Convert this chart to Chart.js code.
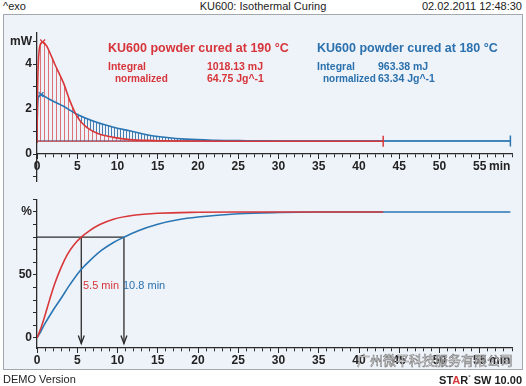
<!DOCTYPE html>
<html>
<head>
<meta charset="utf-8">
<title>KU600: Isothermal Curing</title>
<script src="https://cdn.jsdelivr.net/npm/chart.js"></script>
<style>
body { margin: 0; background: #ffffff; font-family: "Liberation Sans", Arial, sans-serif; }
#page { position: relative; width: 526px; height: 386px; overflow: hidden; }
#frame { position: absolute; left: 3px; top: 14px; width: 518px; height: 354px; border: 1px solid #a3a7ae; background: #eef2f9; }
canvas { position: absolute; left: 0; }
.t { position: absolute; white-space: nowrap; line-height: 1; color: #222; }
.red { color: #d6353a; }
.blue { color: #2a71ad; }
.b { font-weight: bold; }
</style>
</head>
<body>
<div id="page">
  <!-- header -->
  <div class="t" style="left:3px;top:1px;font-size:11px">^exo</div>
  <div class="t" style="left:0;width:526px;text-align:center;top:1px;font-size:11px">KU600: Isothermal Curing</div>
  <div class="t" style="right:4px;top:1px;font-size:11px">02.02.2011 12:48:30</div>

  <div id="frame"></div>
  <canvas id="dsc" width="526" height="190" style="top:0"></canvas>
  <canvas id="conv" width="526" height="196" style="top:190px"></canvas>

  <!-- legend texts, top panel -->
  <div class="t b red" style="left:108px;top:42px;font-size:12.5px">KU600 powder cured at 190 °C</div>
  <div class="t b red" style="left:108px;top:61px;font-size:10.5px">Integral</div>
  <div class="t b red" style="left:207px;top:61px;font-size:10.5px">1018.13 mJ</div>
  <div class="t b red" style="left:115px;top:73.5px;font-size:10px">normalized</div>
  <div class="t b red" style="left:207px;top:73px;font-size:10.5px">64.75 Jg^-1</div>

  <div class="t b blue" style="left:317px;top:42px;font-size:12.5px">KU600 powder cured at 180 °C</div>
  <div class="t b blue" style="left:317px;top:61px;font-size:10.5px">Integral</div>
  <div class="t b blue" style="left:378px;top:61px;font-size:10.5px">963.38 mJ</div>
  <div class="t b blue" style="left:323px;top:73.5px;font-size:10px">normalized</div>
  <div class="t b blue" style="left:378px;top:73px;font-size:10.5px">63.34 Jg^-1</div>

  <div class="t b" style="left:489px;top:160px;font-size:12px">min</div>

  <!-- bottom panel labels -->
  <div class="t red" style="left:83px;top:280px;font-size:11px">5.5 min</div>
  <div class="t blue" style="left:123px;top:280px;font-size:11px">10.8 min</div>
  <div class="t b" style="left:489px;top:354px;font-size:12px">min</div>

  <div class="t" style="left:357px;top:353px;font-size:13px;font-family:'Noto Sans CJK SC';color:rgba(255,255,255,0.95);-webkit-text-stroke:0.6px #7d7d7d">广州微平科技服务有限公司</div>

  <!-- footer -->
  <div class="t" style="left:3px;top:374px;font-size:11px">DEMO Version</div>
  <div class="t b" style="right:4px;top:374px;font-size:11px">ST<span class="red">A</span>R<sup style="font-size:6px">°</sup> SW 10.00</div>
</div>

<script>
// DSC heat flow, mW
const dscTimeRed = [0, 0.08, 0.2, 0.4, 0.7, 1.2, 1.6, 2.2, 3.3, 4.1, 4.9, 5.8, 7.4, 9.5, 11.5, 14.5, 18, 25, 43];
const dscRed = [0.6, 3.0, 4.3, 4.85, 4.98, 4.8, 4.5, 4.0, 3.15, 2.35, 1.72, 1.3, 0.93, 0.74, 0.64, 0.6, 0.58, 0.57, 0.57];
const dscTimeBlue = [0, 0.05, 0.2, 0.5, 1, 1.6, 3.3, 4.9, 7.4, 9.5, 11.5, 14.5, 18.5, 22, 26, 30, 58.8];
const dscBlue = [0.6, 2.0, 2.55, 2.64, 2.55, 2.42, 2.12, 1.78, 1.41, 1.19, 1.03, 0.8, 0.66, 0.61, 0.59, 0.58, 0.58];
const baseRed = 0.57, baseBlue = 0.58;
const peakRed = [0.7, 4.98], peakBlue = [0.5, 2.64];

// conversion, %
const convTimeRed = [0, 0.5, 1, 1.6, 2.2, 3, 3.8, 4.6, 5.5, 6.5, 7.8, 9.5, 12, 15, 20, 25, 43];
const convRed = [0, 8, 18, 31, 43, 56, 66.5, 74, 80, 85, 90, 94.3, 97.4, 99, 99.8, 100, 100];
const convTimeBlue = [0, 0.5, 1, 2, 3, 4, 5.3, 6.5, 8, 9.5, 10.8, 12.5, 15, 17.5, 20, 25, 30, 35, 58.8];
const convBlue = [0, 5.5, 11.5, 22, 31.5, 41.5, 53, 61, 69.5, 75.8, 80, 85, 90.3, 93.8, 96, 98.6, 99.6, 100, 100];
const level = 80, tRed = 5.5, tBlue = 10.8, arrowEnd = -4.5;

// tick labels
const timeTicks = ['0', '5', '10', '15', '20', '25', '30', '35', '40', '45', '50', '55'];
const mwTickValues = [0, 2, 4, 5];
const mwTickLabels = ['0', '2', '4', 'mW'];
const pctTickValues = [0, 50, 100];
const pctTickLabels = ['0', '50', '%'];

const RED = '#d8383a', BLUE = '#2a76b3', AXIS = '#2a2a2a', TEXT = '#222';
Chart.defaults.font.family = 'Liberation Sans';

const pts = (xs, ys) => xs.map((x, i) => ({ x: x, y: ys[i] }));

function stripes(color, period, bg) {
    const c = document.createElement('canvas');
    c.width = period; c.height = 1;
    const g = c.getContext('2d');
    if (bg) { g.fillStyle = bg; g.fillRect(0, 0, period, 1); }
    g.fillStyle = color; g.fillRect(0, 0, 1, 1);
    return g.createPattern(c, 'repeat');
}

const tickFont = { family: 'Liberation Sans', size: 12, weight: 'bold' };

function xAxes(at) {
    return {
        x: {
            type: 'linear', min: 0, max: 59, position: at,
            afterFit: s => { s.height = 0; },
            ticks: { stepSize: 1, autoSkip: false, display: false, includeBounds: false },
            grid: { drawOnChartArea: false, tickLength: 3, color: AXIS },
            border: { color: AXIS, width: 1.3 }
        },
        xMaj: {
            type: 'linear', axis: 'x', min: 0, max: 59, position: at,
            afterFit: s => { s.height = 0; },
            ticks: {
                stepSize: 5, autoSkip: false, includeBounds: false, maxRotation: 0, padding: 0,
                font: tickFont, color: TEXT,
                callback: v => timeTicks.includes(String(v)) ? String(v) : ''
            },
            grid: { drawOnChartArea: false, tickLength: 5, color: AXIS },
            border: { display: false }
        }
    };
}

function yAxis(min, max, step, values, labels) {
    return {
        type: 'linear', min: min, max: max,
        afterFit: s => { s.width = 37; },
        ticks: {
            stepSize: step, autoSkip: false, includeBounds: false, padding: 1,
            font: tickFont, color: TEXT,
            callback: v => { const i = values.indexOf(v); return i >= 0 ? labels[i] : ''; }
        },
        grid: { drawOnChartArea: false, tickLength: 4, color: AXIS },
        border: { color: AXIS, width: 1.3 }
    };
}

// open arrow heads at the last point of flagged datasets
const arrowHeads = {
    id: 'arrowHeads',
    afterDatasetsDraw(chart) {
        const ctx = chart.ctx;
        chart.data.datasets.forEach((ds, i) => {
            if (!ds.arrowHead) return;
            const els = chart.getDatasetMeta(i).data;
            const tip = els[els.length - 1];
            ctx.save();
            ctx.strokeStyle = ds.borderColor;
            ctx.lineWidth = 1.3;
            ctx.beginPath();
            ctx.moveTo(tip.x - 3, tip.y - 8);
            ctx.lineTo(tip.x, tip.y);
            ctx.lineTo(tip.x + 3, tip.y - 8);
            ctx.stroke();
            ctx.restore();
        });
    }
};

const endMark = n => ctx => ctx.dataIndex === n - 1 ? 5.5 : (ctx.dataIndex === 0 ? 2.5 : 0);

new Chart(document.getElementById('dsc'), {
    type: 'line',
    data: {
        datasets: [
            { data: [{ x: peakRed[0], y: peakRed[1] }], showLine: false, pointStyle: 'crossRot', pointRadius: 3.5, borderColor: RED, borderWidth: 1.3, order: -2 },
            { data: [{ x: peakBlue[0], y: peakBlue[1] }], showLine: false, pointStyle: 'crossRot', pointRadius: 3.5, borderColor: BLUE, borderWidth: 1.3, order: -1 },
            { data: pts(dscTimeRed, dscRed), borderColor: RED, borderWidth: 1.6, cubicInterpolationMode: 'monotone',
              pointStyle: 'line', rotation: 90, pointRadius: endMark(dscTimeRed.length), pointBorderWidth: 1.5, order: 0 },
            { data: pts(dscTimeBlue, dscBlue), borderColor: BLUE, borderWidth: 1.6, cubicInterpolationMode: 'monotone',
              pointStyle: 'line', rotation: 90, pointRadius: endMark(dscTimeBlue.length), pointBorderWidth: 1.5, order: 1 },
            { data: [{ x: 0, y: baseRed }, { x: dscTimeRed[dscTimeRed.length - 1], y: baseRed }], borderColor: RED, borderWidth: 1, pointRadius: 0, order: 2 },
            { data: [{ x: 0, y: baseBlue }, { x: dscTimeBlue[dscTimeBlue.length - 1], y: baseBlue }], borderColor: BLUE, borderWidth: 1, pointRadius: 0, order: 3 },
            { data: pts(dscTimeRed, dscRed), borderWidth: 0, pointRadius: 0, cubicInterpolationMode: 'monotone',
              fill: { value: baseRed }, backgroundColor: stripes('rgba(214,60,62,0.7)', 4, '#eef2f9'), order: 4 },
            { data: pts(dscTimeBlue, dscBlue), borderWidth: 0, pointRadius: 0, cubicInterpolationMode: 'monotone',
              fill: { value: baseBlue }, backgroundColor: stripes('rgba(40,105,165,0.85)', 3), order: 5 }
        ]
    },
    options: {
        responsive: false, animation: false,
        layout: { padding: { left: 0, right: 14, top: 32.5, bottom: 9 } },
        plugins: { legend: { display: false }, tooltip: { enabled: false } },
        scales: Object.assign(xAxes({ y: 0 }), { y: yAxis(-1.2, 5.4, 1, mwTickValues, mwTickLabels) })
    }
});

new Chart(document.getElementById('conv'), {
    type: 'line',
    data: {
        datasets: [
            { data: pts(convTimeRed, convRed), borderColor: RED, borderWidth: 1.6, pointRadius: 0, cubicInterpolationMode: 'monotone', order: 0 },
            { data: pts(convTimeBlue, convBlue), borderColor: BLUE, borderWidth: 1.6, pointRadius: 0, cubicInterpolationMode: 'monotone', order: 1 },
            { data: [{ x: 0, y: level }, { x: tBlue, y: level }], borderColor: AXIS, borderWidth: 1.3, pointRadius: 0, order: 2 },
            { data: [{ x: tRed, y: level }, { x: tRed, y: arrowEnd }], borderColor: AXIS, borderWidth: 1.3, pointRadius: 0, arrowHead: true, order: 2 },
            { data: [{ x: tBlue, y: level }, { x: tBlue, y: arrowEnd }], borderColor: AXIS, borderWidth: 1.3, pointRadius: 0, arrowHead: true, order: 2 }
        ]
    },
    options: {
        responsive: false, animation: false,
        layout: { padding: { left: 0, right: 14, top: 9.4, bottom: 38 } },
        plugins: { legend: { display: false }, tooltip: { enabled: false } },
        scales: Object.assign(xAxes({ y: -8 }), { y: yAxis(-8, 110, 10, pctTickValues, pctTickLabels) })
    },
    plugins: [arrowHeads]
});
</script>
</body>
</html>
